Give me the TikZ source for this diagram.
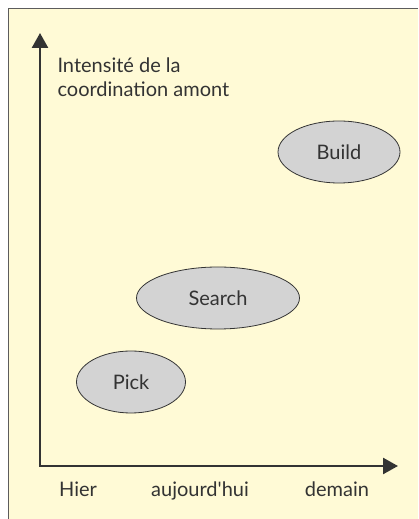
\documentclass[tikz,border=0pt]{standalone}
\usepackage{fontspec}
\setmainfont{Lato}[Ligatures=TeXOff]
\usetikzlibrary{arrows.meta,positioning,shapes.geometric}
\definecolor{cream}{RGB}{255,250,214}
\definecolor{bubblegray}{RGB}{211,211,211}
\definecolor{inkgray}{RGB}{51,51,51}
\begin{document}
\begin{tikzpicture}[x=1pt,y=1pt,>={Triangle[length=15pt,width=16pt]},
    bubble/.style={ellipse,draw=inkgray,fill=bubblegray,line width=0.8pt,inner sep=0pt,text=inkgray,font=\fontsize{20}{24}\selectfont},
    lbl/.style={text=inkgray,font=\fontsize{20}{24}\selectfont}]
  \useasboundingbox (0,0) rectangle (418,519);
  \fill[cream] (8,0) rectangle (418,510);
  \draw[inkgray!80,line width=1pt] (8,0) -- (8,510) -- (418,510);

  \coordinate (o)    at (40,53);
  \coordinate (ytop) at (40,486);
  \coordinate (xend) at (398,53);
  \draw[<->,line width=2.5pt,inkgray] (ytop) -- (o) -- (xend);

  \node[lbl,anchor=base west,align=left] (title) at (54,422) {Intensité de la\\coordination amont};

  \node[bubble,minimum width=122pt,minimum height=62pt] (build)  at (339,367) {Build};
  \node[bubble,minimum width=163pt,minimum height=62pt] (search) at (218,221) {Search};
  \node[bubble,minimum width=109pt,minimum height=62pt] (pick)   at (131,137) {Pick};

  \node[lbl,anchor=base] (hier)   at (78,23)  {Hier};
  \node[lbl,anchor=base] (auj)    at (200,23) {aujourd'hui};
  \node[lbl,anchor=base] (demain) at (337,23) {demain};
\end{tikzpicture}
\end{document}
